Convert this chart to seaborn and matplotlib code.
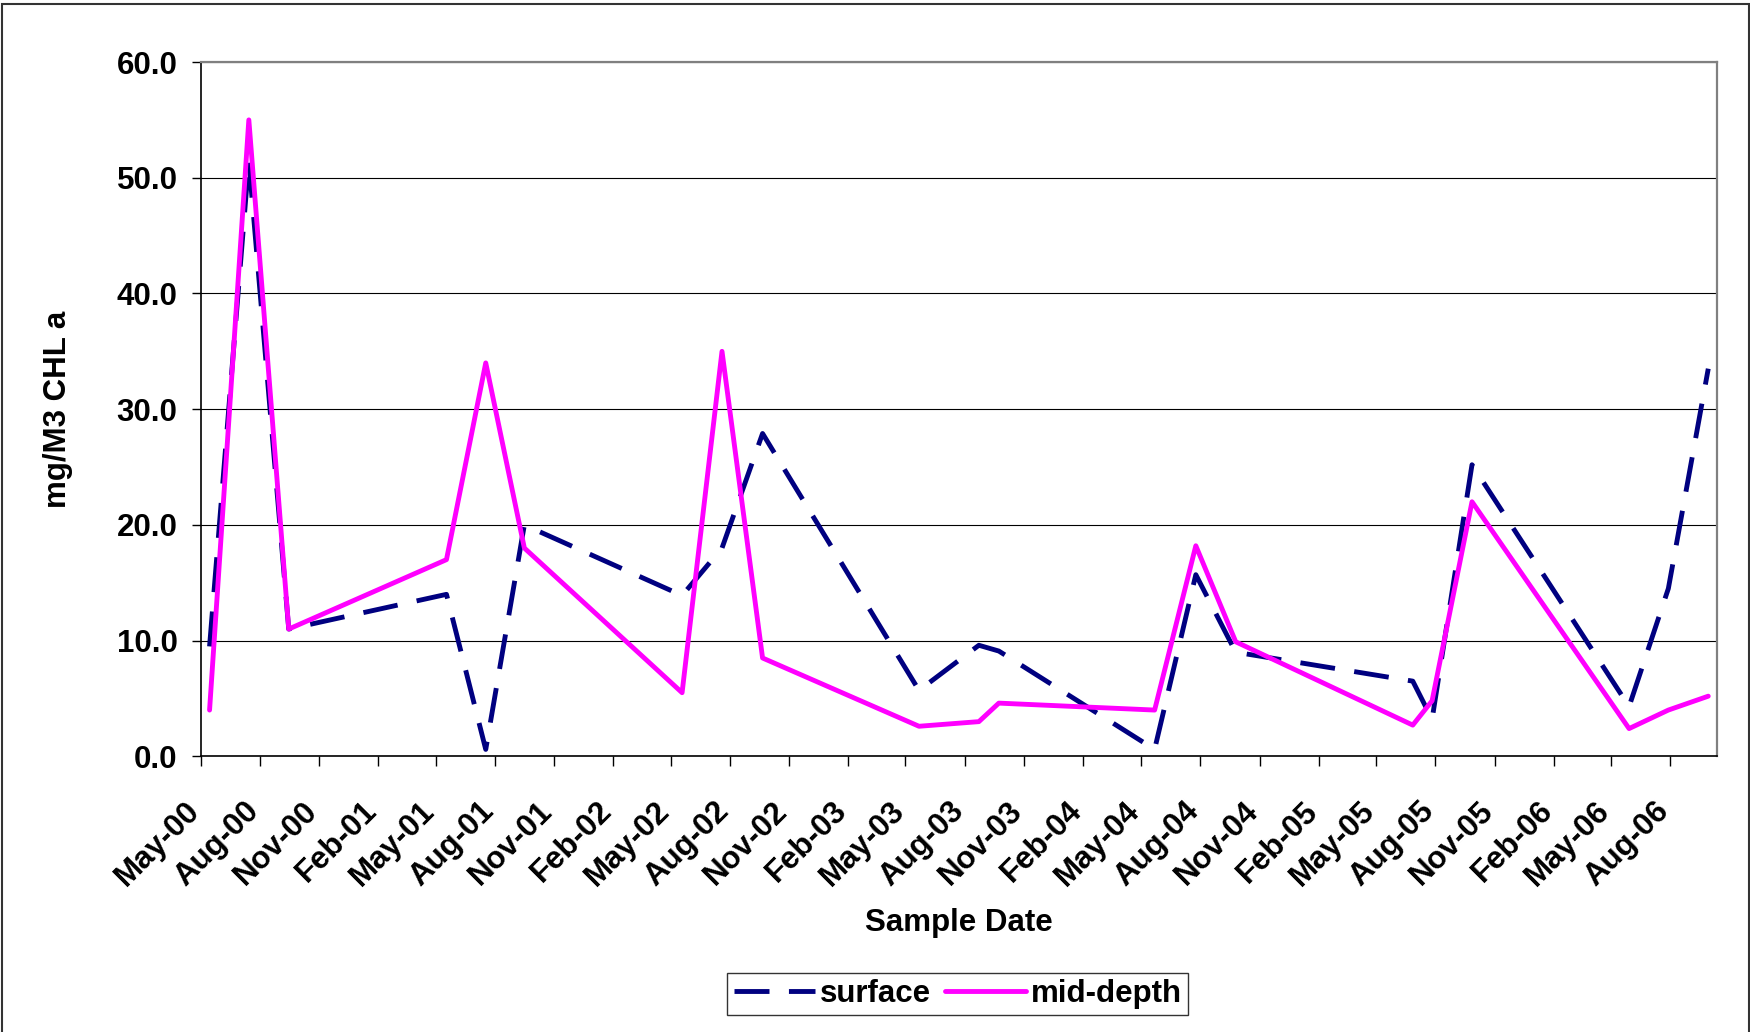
import numpy as np
import pandas as pd
import seaborn as sns
import matplotlib.pyplot as plt
import matplotlib.dates as mdates
from matplotlib.patches import Rectangle

# sample dates and chlorophyll values
sample_dates = ["2000-05-15", "2000-07-15", "2000-09-15",
                "2001-05-18", "2001-07-18", "2001-09-16",
                "2002-05-19", "2002-07-20", "2002-09-21",
                "2003-05-22", "2003-08-23", "2003-09-23",
                "2004-05-22", "2004-07-25", "2004-09-25",
                "2005-06-27", "2005-07-27", "2005-09-27",
                "2006-05-29", "2006-07-29", "2006-09-29"]
surface = [9.5, 51.5, 11.0, 14.0, 0.6, 20.0, 13.9, 18.0, 27.9, 5.7, 9.6,
           9.1, 0.6, 15.7, 9.0, 6.5, 3.2, 25.2, 4.3, 14.5, 33.5]
mid_depth = [4.0, 55.0, 11.0, 17.0, 34.0, 18.0, 5.5, 35.0, 8.5, 2.6, 3.0,
             4.6, 4.0, 18.2, 9.9, 2.7, 4.8, 22.0, 2.4, 4.0, 5.2]

y_ticks = [0, 10, 20, 30, 40, 50, 60]

df = pd.DataFrame({"date": pd.to_datetime(sample_dates),
                   "surface": surface,
                   "mid-depth": mid_depth})

sns.set_style("ticks")
plt.rcParams['font.family'] = ['Liberation Sans', 'DejaVu Sans']
plt.rcParams['font.weight'] = 'bold'
plt.rcParams['text.color'] = 'black'
plt.rcParams['axes.labelcolor'] = 'black'

FS = 22.5

fig = plt.figure(figsize=(17.5, 10.32), dpi=100)
ax = fig.add_axes([0.1146, 0.2671, 0.9813 - 0.1146, 0.9399 - 0.2671])

sns.lineplot(data=df, x="date", y="surface", ax=ax, color="#000080",
             lw=3.5, label="surface", dashes=False)
sns.lineplot(data=df, x="date", y="mid-depth", ax=ax, color="#FF00FF",
             lw=3.5, label="mid-depth", dashes=False)
ax.lines[0].set_dashes((7.2, 4))
ax.lines[1].set_solid_capstyle("round")
ax.lines[1].set_solid_joinstyle("round")

ax.set_xlim(pd.Timestamp("2000-05-01"), pd.Timestamp("2006-10-13"))
ax.set_ylim(0, 60)
ax.set_yticks(y_ticks)
ax.yaxis.set_major_formatter(plt.FormatStrFormatter("%.1f"))
ax.xaxis.set_major_locator(mdates.MonthLocator(bymonth=(2, 5, 8, 11)))
ax.xaxis.set_major_formatter(mdates.DateFormatter("%b-%y"))

ax.grid(axis="y", color="black", lw=0.8)
ax.set_axisbelow(True)

for s in ["top", "right"]:
    ax.spines[s].set_color("#808080")
    ax.spines[s].set_linewidth(1.6)
for s in ["left", "bottom"]:
    ax.spines[s].set_color("black")
    ax.spines[s].set_linewidth(1.2)

ax.tick_params(axis="y", direction="out", length=6.5, width=1, pad=10,
               labelsize=FS, colors="black")
ax.tick_params(axis="x", direction="out", length=7.2, width=1, pad=33,
               labelsize=FS, colors="black")
for lab in ax.get_yticklabels():
    lab.set_fontweight("bold")
for lab in ax.get_xticklabels():
    lab.set_fontweight("bold")
    lab.set_rotation(45)
    lab.set_ha("right")
    lab.set_va("baseline")
    lab.set_rotation_mode("anchor")

ax.set_xlabel("Sample Date", fontsize=FS, fontweight="bold", va="top")
ax.xaxis.set_label_coords(0.5, -0.219)
ax.set_ylabel("mg/M3 CHL a", fontsize=FS, fontweight="bold")
ax.yaxis.set_label_coords(-0.084, 0.5)

leg = ax.legend(loc="center", bbox_to_anchor=(0.5474, 0.0368),
                bbox_transform=fig.transFigure, ncol=2, fontsize=FS,
                frameon=True, fancybox=False, handlelength=2.6,
                handletextpad=0.17, columnspacing=0.42, borderpad=0.2,
                borderaxespad=0)
leg.get_frame().set_edgecolor("black")
leg.get_frame().set_linewidth(1)
for t in leg.get_texts():
    t.set_fontweight("bold")
    t.set_color("black")

# outer chart border
fig.add_artist(Rectangle((2 / 1750, -0.01), 1747 / 1750, 1.0061,
                         transform=fig.transFigure, fill=False,
                         ec="#333333", lw=1.5))

fig.savefig("out.png", dpi=100)
